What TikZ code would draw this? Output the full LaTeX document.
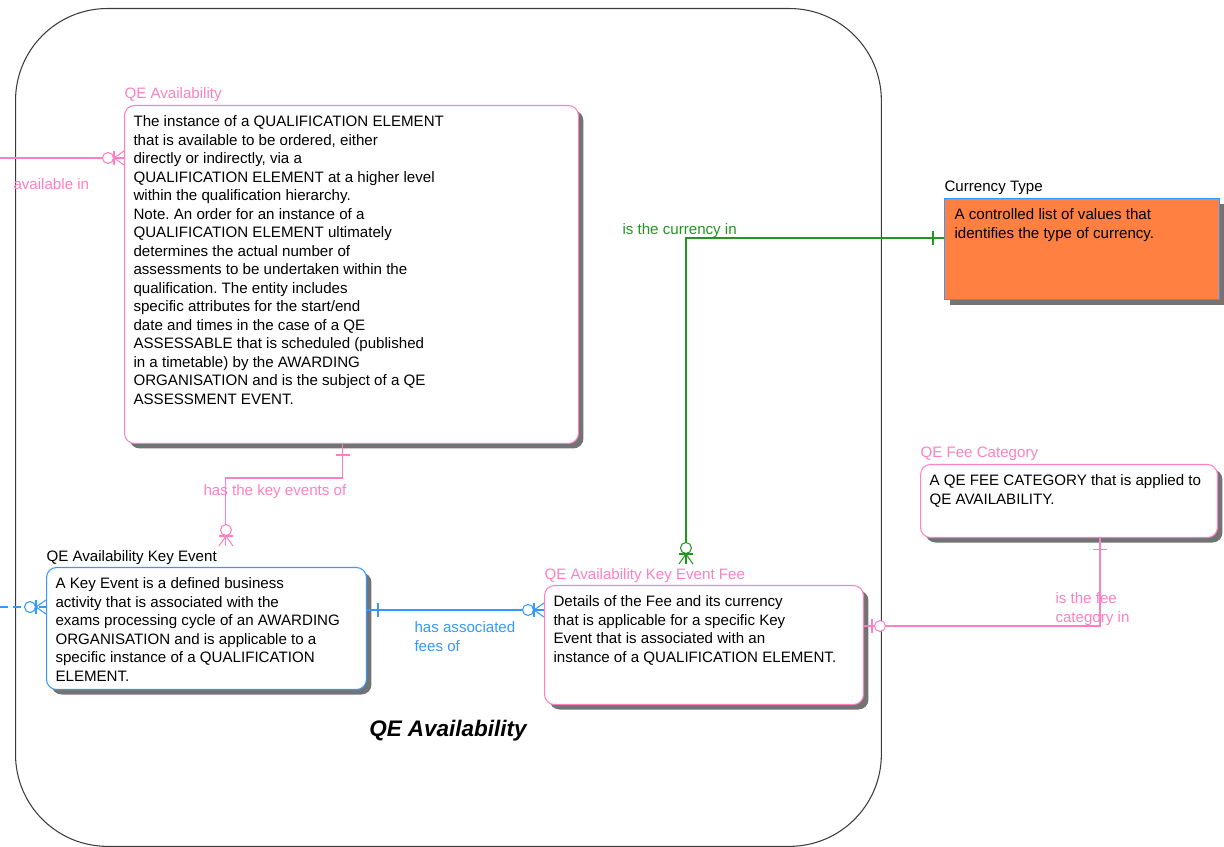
\documentclass[tikz,border=0pt]{standalone}
\usepackage{fontspec}
\setmainfont{Liberation Sans}
\usetikzlibrary{shadows}

\definecolor{erpink}{RGB}{255,128,192}
\definecolor{erblue}{RGB}{51,153,255}
\definecolor{ergreen}{RGB}{34,150,34}
\definecolor{erorange}{RGB}{255,128,64}
\definecolor{erframe}{RGB}{60,60,60}

\frenchspacing

% relationship ends, drawn with the entity on the +x side
\tikzset{
  zeromany/.pic={
    \draw (-10,-7) -- (-10,7);
    \draw (0,-7) -- (-10,0) -- (0,7);
    \draw[fill=white] (-16,0) circle [radius=5.5];
  },
  onlyone/.pic={
    \draw (-11,-7) -- (-11,7);
  },
  zeroone/.pic={
    \draw (-8,-7) -- (-8,7);
    \draw[fill=white] (-16,0) circle [radius=5.5];
  }
}

\begin{document}
\begin{tikzpicture}[x=0.02cm, y=-0.02cm, line width=0.6pt,
    entity/.style={draw, fill=white, anchor=north west, inner sep=0pt, rounded corners=0.2cm,
                   drop shadow={shadow xshift=0.1cm, shadow yshift=-0.1cm, fill=black!55, opacity=1}},
    desc/.style={anchor=north west, inner sep=0pt, align=left, font=\fontsize{8.6}{10.55}\selectfont},
    etitle/.style={anchor=base west, inner sep=2pt, font=\fontsize{8.6}{10.55}\selectfont},
    rel/.style={anchor=north west, inner sep=0pt, align=left, font=\fontsize{8.6}{10.55}\selectfont}]

\useasboundingbox (0,0) rectangle (1224,847);

% subject area
\node[draw=erframe, rounded corners=1.84cm, minimum width=17.32cm, minimum height=16.76cm,
      anchor=north west, inner sep=0pt] (Area) at (15,8) {};
\node[font=\fontsize{12.8}{15}\selectfont\bfseries\itshape] (AreaName) at (448,731) {QE Availability};

% entities
\node[entity, draw=erpink, minimum width=9.08cm, minimum height=6.76cm] (Avail) at (124,105) {};
\node[etitle, text=erpink] (AvailName) at ([xshift=-2pt,yshift=0.12cm]Avail.north west) {QE Availability};
\node[desc] (AvailText) at ([xshift=0.18cm,yshift=-0.2cm]Avail.north west)
  {The instance of a QUALIFICATION ELEMENT\\
   that is available to be ordered, either\\
   directly or indirectly, via a\\
   QUALIFICATION ELEMENT at a higher level\\
   within the qualification hierarchy.\\
   Note. An order for an instance of a\\
   QUALIFICATION ELEMENT ultimately\\
   determines the actual number of\\
   assessments to be undertaken within the\\
   qualification. The entity includes\\
   specific attributes for the start/end\\
   date and times in the case of a QE\\
   ASSESSABLE that is scheduled (published\\
   in a timetable) by the AWARDING\\
   ORGANISATION and is the subject of a QE\\
   ASSESSMENT EVENT.};

\node[entity, draw=erblue, minimum width=6.4cm, minimum height=2.44cm] (KeyEvent) at (46,567) {};
\node[etitle] (KeyEventName) at ([xshift=-2pt,yshift=0.12cm]KeyEvent.north west) {QE Availability Key Event};
\node[desc] (KeyEventText) at ([xshift=0.18cm,yshift=-0.2cm]KeyEvent.north west)
  {A Key Event is a defined business\\
   activity that is associated with the\\
   exams processing cycle of an AWARDING\\
   ORGANISATION and is applicable to a\\
   specific instance of a QUALIFICATION\\
   ELEMENT.};

\node[entity, draw=erpink, minimum width=6.38cm, minimum height=2.38cm] (KeyEventFee) at (544,585) {};
\node[etitle, text=erpink] (KeyEventFeeName) at ([xshift=-2pt,yshift=0.12cm]KeyEventFee.north west) {QE Availability Key Event Fee};
\node[desc] (KeyEventFeeText) at ([xshift=0.18cm,yshift=-0.2cm]KeyEventFee.north west)
  {Details of the Fee and its currency\\
   that is applicable for a specific Key\\
   Event that is associated with an\\
   instance of a QUALIFICATION ELEMENT.};

\node[entity, sharp corners, draw=erblue, fill=erorange, minimum width=5.5cm, minimum height=2.02cm] (Currency) at (944,198) {};
\node[etitle] (CurrencyName) at ([xshift=-2pt,yshift=0.12cm]Currency.north west) {Currency Type};
\node[desc] (CurrencyText) at ([xshift=0.2cm,yshift=-0.2cm]Currency.north west)
  {A controlled list of values that\\
   identifies the type of currency.};

\node[entity, draw=erpink, minimum width=5.94cm, minimum height=1.46cm] (FeeCategory) at (920,464) {};
\node[etitle, text=erpink] (FeeCategoryName) at ([xshift=-2pt,yshift=0.12cm]FeeCategory.north west) {QE Fee Category};
\node[desc] (FeeCategoryText) at ([xshift=0.18cm,yshift=-0.2cm]FeeCategory.north west)
  {A QE FEE CATEGORY that is applied to\\
   QE AVAILABILITY.};

% available in
\coordinate (AvailIn) at (0,158);
\draw[erpink] (AvailIn) -- (AvailIn -| Avail.west);
\path (AvailIn -| Avail.west) pic[color=erpink] {zeromany};
\node[rel, text=erpink] (AvailInLabel) at (13,178) {available in};

% has the key events of
\coordinate (AvailOut) at ([xshift=4.38cm]Avail.south west);
\coordinate (KeyEventIn) at ([xshift=3.6cm]KeyEvent.north west);
\draw[erpink] (AvailOut) -- ++(0,34) -| (KeyEventIn |- KeyEventName.north);
\path (AvailOut) pic[color=erpink, rotate=90] {onlyone};
\path (KeyEventIn |- KeyEventName.north) pic[color=erpink, rotate=-90] {zeromany};
\node[rel, text=erpink] (KeyEventsLabel) at (203,484) {has the key events of};

% key event from outside
\coordinate (KeyEventFrom) at (0,607);
\draw[erblue, dash pattern=on 0.16cm off 0.1cm] (KeyEventFrom) -- (KeyEventFrom -| KeyEvent.west);
\path (KeyEventFrom -| KeyEvent.west) pic[color=erblue] {zeromany};

% has associated fees of
\coordinate (KeyEventOut) at ([yshift=-0.86cm]KeyEvent.north east);
\draw[erblue] (KeyEventOut) -- (KeyEventOut -| KeyEventFee.west);
\path (KeyEventOut) pic[color=erblue, rotate=180] {onlyone};
\path (KeyEventOut -| KeyEventFee.west) pic[color=erblue] {zeromany};
\node[rel, text=erblue] (FeesLabel) at (414,621) {has associated\\fees of};

% is the currency in
\coordinate (CurrencyOut) at ([yshift=-0.8cm]Currency.north west);
\coordinate (FeeTop) at ([xshift=2.84cm]KeyEventFee.north west);
\draw[ergreen] (CurrencyOut) -| (FeeTop |- KeyEventFeeName.north);
\path (CurrencyOut) pic[color=ergreen] {onlyone};
\path (FeeTop |- KeyEventFeeName.north) pic[color=ergreen, rotate=-90] {zeromany};
\node[rel, text=ergreen] (CurrencyLabel) at (622,223) {is the currency in};

% is the fee category in
\coordinate (FeeCategoryOut) at ([xshift=3.6cm]FeeCategory.south west);
\coordinate (FeeOut) at ([yshift=-0.82cm]KeyEventFee.north east);
\draw[erpink] (FeeCategoryOut) |- (FeeOut);
\path (FeeCategoryOut) pic[color=erpink, rotate=90] {onlyone};
\path (FeeOut) pic[color=erpink, rotate=180] {zeroone};
\node[rel, text=erpink] (FeeCategoryLabel) at (1055,592) {is the fee\\category in};

\end{tikzpicture}
\end{document}
